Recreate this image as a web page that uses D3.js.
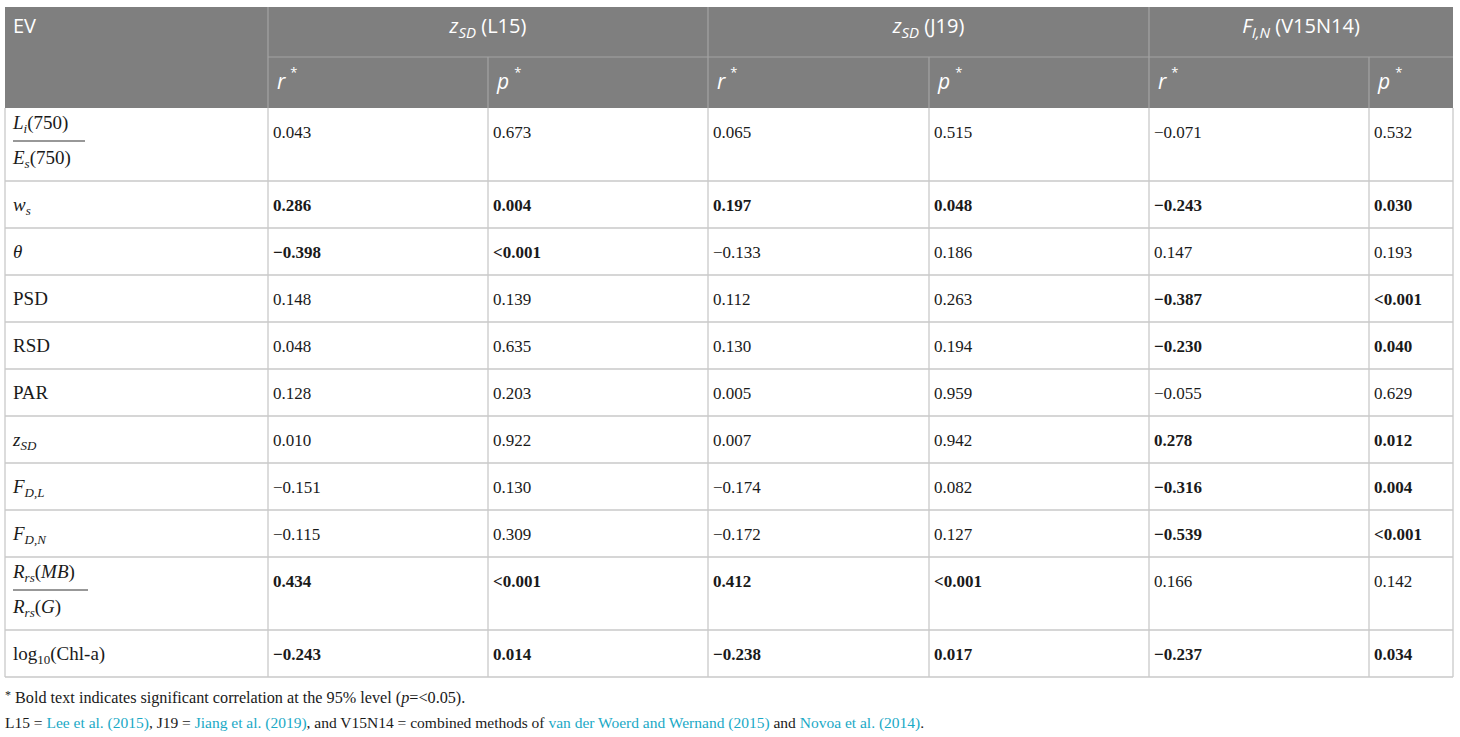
<!DOCTYPE html>
<html>
<head>
<meta charset="utf-8">
<script src="https://cdn.jsdelivr.net/npm/d3@7"></script>
<style>
  html, body { margin: 0; padding: 0; background: #fff; }
  svg { display: block; }
</style>
</head>
<body>
<svg id="t" width="1460" height="737"></svg>
<script>
// ---------------- data ----------------
const evLabels = ["Li/Es", "ws", "theta", "PSD", "RSD", "PAR", "zSD", "FDL", "FDN", "Rrs", "logChl"];
const groups = ["zSD (L15)", "zSD (J19)", "FIN (V15N14)"];
const subHeaders = ["r", "p", "r", "p", "r", "p"];
const rL15 = ["0.043", "0.286", "−0.398", "0.148", "0.048", "0.128", "0.010", "−0.151", "−0.115", "0.434", "−0.243"];
const pL15 = ["0.673", "0.004", "<0.001", "0.139", "0.635", "0.203", "0.922", "0.130", "0.309", "<0.001", "0.014"];
const rJ19 = ["0.065", "0.197", "−0.133", "0.112", "0.130", "0.005", "0.007", "−0.174", "−0.172", "0.412", "−0.238"];
const pJ19 = ["0.515", "0.048", "0.186", "0.263", "0.194", "0.959", "0.942", "0.082", "0.127", "<0.001", "0.017"];
const rV15 = ["−0.071", "−0.243", "0.147", "−0.387", "−0.230", "−0.055", "0.278", "−0.316", "−0.539", "0.166", "−0.237"];
const pV15 = ["0.532", "0.030", "0.193", "<0.001", "0.040", "0.629", "0.012", "0.004", "<0.001", "0.142", "0.034"];
const significanceLevel = 0.05;

// ---------------- layout ----------------
const colEdges = [5, 268, 488, 708, 929, 1149, 1369, 1453];
const head1 = [7, 57];
const head2 = [57, 108];
const tallRows = new Set(["Li/Es", "Rrs"]);
const normalH = 47, tallH = 73;
const gridColor = "#c9c9c9";
const headColor = "#7f7f7f";
const headLine = "#a3a3a3";
const linkColor = "#1aa9c6";
const textColor = "#1a1a1a";
const serif = "'Liberation Serif', 'Times New Roman', serif";
const sans = "'Open Sans', 'Noto Sans', sans-serif";

const svg = d3.select("#t");

// row boundaries
const rowTops = [];
let yy = head2[1];
evLabels.forEach(l => { rowTops.push(yy); yy += tallRows.has(l) ? tallH : normalH; });
const tableBottom = yy;

const colX = d3.scaleOrdinal().domain(d3.range(7)).range(colEdges.slice(0, 7));
const rowY = d3.scaleOrdinal().domain(evLabels).range(rowTops);
const rowH = l => tallRows.has(l) ? tallH : normalH;

// header background
svg.append("rect").attr("x", colEdges[0]).attr("y", head1[0])
  .attr("width", colEdges[7] - colEdges[0]).attr("height", head2[1] - head1[0])
  .attr("fill", headColor);

// header lines
const hl = svg.append("g").attr("stroke", headLine).attr("stroke-width", 1.2);
hl.append("line").attr("x1", colEdges[1]).attr("x2", colEdges[7]).attr("y1", head1[1]).attr("y2", head1[1]);
[1, 3, 5].forEach(i => hl.append("line").attr("x1", colEdges[i]).attr("x2", colEdges[i]).attr("y1", head1[0]).attr("y2", head2[1]));
[2, 4, 6].forEach(i => hl.append("line").attr("x1", colEdges[i]).attr("x2", colEdges[i]).attr("y1", head1[1]).attr("y2", head2[1]));

// header text
svg.append("text").attr("x", colEdges[0] + 8).attr("y", 33)
  .attr("font-family", sans).attr("font-size", 20).attr("fill", "#fff").text("EV");

const groupParts = [
  [{t: "z", it: true}, {t: "SD", it: true, sub: true}, {t: " (L15)"}],
  [{t: "z", it: true}, {t: "SD", it: true, sub: true}, {t: " (J19)"}],
  [{t: "F", it: true}, {t: "I,N", it: true, sub: true}, {t: " (V15N14)"}]
];
groups.forEach((g, gi) => {
  const x0 = colEdges[1 + gi * 2], x1 = colEdges[3 + gi * 2];
  const t = svg.append("text").attr("x", (x0 + x1) / 2).attr("y", 33)
    .attr("text-anchor", "middle").attr("font-family", sans).attr("font-size", 20).attr("fill", "#fff");
  groupParts[gi].forEach((p, k) => {
    const ts = t.append("tspan").text(p.t);
    if (p.it) ts.attr("font-style", "italic");
    if (p.sub) ts.attr("font-size", 15).attr("dy", 5);
    else if (k > 0) ts.attr("dy", -5);
  });
});

subHeaders.forEach((s, i) => {
  const t = svg.append("text").attr("x", colEdges[i + 1] + 9).attr("y", 89)
    .attr("font-family", sans).attr("font-size", 21).attr("fill", "#fff");
  t.append("tspan").attr("font-style", "italic").text(s);
  t.append("tspan").attr("font-size", 13).attr("dx", 5).attr("dy", -12).text("*");
});

// body grid
const bg = svg.append("g").attr("stroke", gridColor).attr("stroke-width", 1.3).attr("fill", "none");
evLabels.forEach(l => {
  const y = rowY(l) + rowH(l);
  bg.append("line").attr("x1", colEdges[0]).attr("x2", colEdges[7]).attr("y1", y).attr("y2", y);
});
colEdges.forEach(x => bg.append("line").attr("x1", x).attr("x2", x).attr("y1", head2[1]).attr("y2", tableBottom));

// EV labels (math)
function mathLabel(g, key) {
  const fs = 19;
  const base = g.append("g").attr("font-family", serif).attr("font-size", fs).attr("fill", textColor);
  const x = 13;
  function add(parts, y) {
    const t = base.append("text").attr("x", x).attr("y", y);
    parts.forEach((p, k) => {
      const ts = t.append("tspan").text(p.t);
      if (p.it) ts.attr("font-style", "italic");
      if (p.sub) ts.attr("font-size", 13).attr("dy", 4);
      else if (k > 0 && parts[k - 1].sub) ts.attr("dy", -4);
    });
    return t;
  }
  if (key === "Li/Es") {
    add([{t: "L", it: true}, {t: "i", it: true, sub: true}, {t: "(750)"}], 21);
    base.append("line").attr("x1", x).attr("x2", x + 72).attr("y1", 33).attr("y2", 33).attr("stroke", "#333").attr("stroke-width", 1.1);
    add([{t: "E", it: true}, {t: "s", it: true, sub: true}, {t: "(750)"}], 56);
  } else if (key === "Rrs") {
    add([{t: "R", it: true}, {t: "rs", it: true, sub: true}, {t: "("}, {t: "MB", it: true}, {t: ")"}], 21);
    base.append("line").attr("x1", x).attr("x2", x + 75).attr("y1", 33).attr("y2", 33).attr("stroke", "#333").attr("stroke-width", 1.1);
    add([{t: "R", it: true}, {t: "rs", it: true, sub: true}, {t: "("}, {t: "G", it: true}, {t: ")"}], 56);
  } else if (key === "ws") {
    add([{t: "w", it: true}, {t: "s", it: true, sub: true}], 30);
  } else if (key === "theta") {
    add([{t: "θ", it: true}], 30);
  } else if (key === "zSD") {
    add([{t: "z", it: true}, {t: "SD", it: true, sub: true}], 30);
  } else if (key === "FDL") {
    add([{t: "F", it: true}, {t: "D,L", it: true, sub: true}], 30);
  } else if (key === "FDN") {
    add([{t: "F", it: true}, {t: "D,N", it: true, sub: true}], 30);
  } else if (key === "logChl") {
    add([{t: "log"}, {t: "10", sub: true}, {t: "(Chl-a)"}], 30);
  } else {
    add([{t: key}], 30);
  }
}
evLabels.forEach(l => {
  const g = svg.append("g").attr("transform", `translate(0,${rowY(l)})`);
  mathLabel(g, l);
});

// values
const cols = [rL15, pL15, rJ19, pJ19, rV15, pV15];
const pCols = [pL15, pL15, pJ19, pJ19, pV15, pV15];
const isSig = v => v.startsWith("<") || parseFloat(v) < significanceLevel;
cols.forEach((col, ci) => {
  svg.append("g").selectAll("text").data(col).join("text")
    .attr("x", colX(ci + 1) + 5)
    .attr("y", (d, ri) => rowY(evLabels[ri]) + 30)
    .attr("font-family", serif).attr("font-size", 17).attr("fill", textColor)
    .attr("font-weight", (d, ri) => isSig(pCols[ci][ri]) ? "bold" : "normal")
    .text(d => d);
});

// footnotes
const f1 = svg.append("text").attr("x", 5).attr("y", 703).attr("font-family", serif).attr("font-size", 16.2).attr("fill", textColor);
f1.append("tspan").attr("font-size", 12).attr("dy", -4).text("*");
f1.append("tspan").attr("dy", 4).text(" Bold text indicates significant correlation at the 95% level (");
f1.append("tspan").attr("font-style", "italic").text("p");
f1.append("tspan").text("=<0.05).");

const footParts = [
  {t: "L15 = "}, {t: "Lee et al. (2015)", link: true}, {t: ", J19 = "}, {t: "Jiang et al. (2019)", link: true},
  {t: ", and V15N14 = combined methods of "}, {t: "van der Woerd and Wernand (2015)", link: true},
  {t: " and "}, {t: "Novoa et al. (2014)", link: true}, {t: "."}
];
const f2 = svg.append("text").attr("x", 5).attr("y", 728).attr("font-family", serif).attr("font-size", 15.5).attr("fill", textColor);
f2.selectAll("tspan").data(footParts).join("tspan")
  .attr("fill", d => d.link ? linkColor : textColor).text(d => d.t);
</script>
</body>
</html>
